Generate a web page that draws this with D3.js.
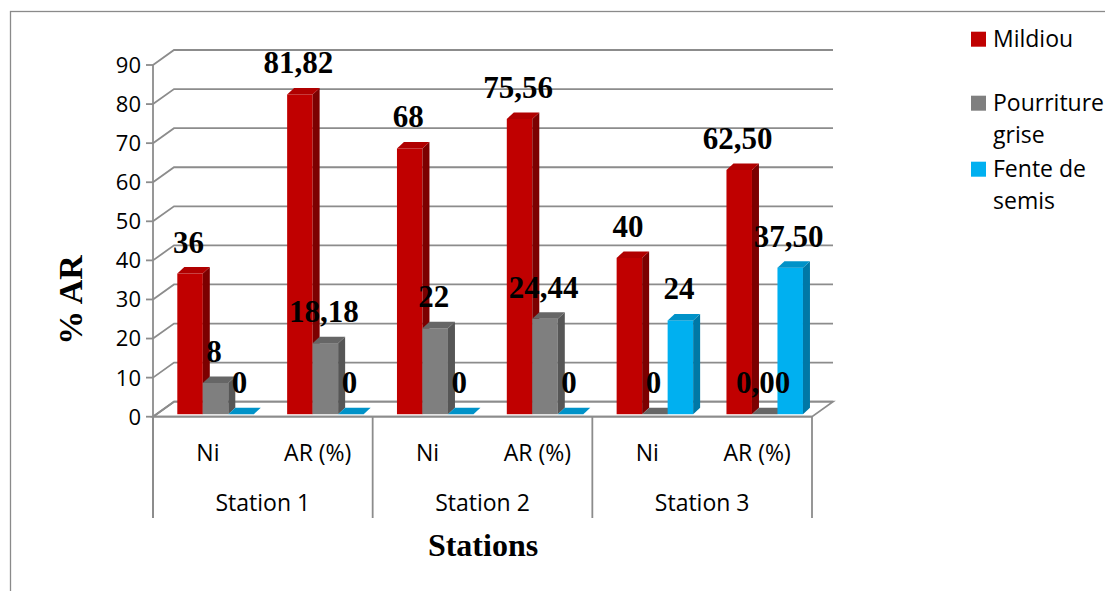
<!DOCTYPE html>
<html><head><meta charset="utf-8">
<script src="https://cdn.jsdelivr.net/npm/d3@7"></script>
<style>body{margin:0;background:#fff;} svg{display:block;}</style>
</head><body><svg id="chart" width="1105" height="591"></svg>
<script>
// ---- data ----
const categories = ["Ni", "AR (%)", "Ni", "AR (%)", "Ni", "AR (%)"];
const stations = ["Station 1", "Station 2", "Station 3"];
const seriesNames = ["Mildiou", "Pourriture grise", "Fente de semis"];
const mildiou = [36, 81.82, 68, 75.56, 40, 62.5];
const pourriture = [8, 18.18, 22, 24.44, 0, 0];
const fente = [0, 0, 0, 0, 24, 37.5];
const mildiouLabels = ["36", "81,82", "68", "75,56", "40", "62,50"];
const pourritureLabels = ["8", "18,18", "22", "24,44", "0", "0,00"];
const fenteLabels = ["0", "0", "0", "0", "24", "37,50"];
const yTicks = [0, 10, 20, 30, 40, 50, 60, 70, 80, 90];
const yTitle = "% AR";
const xTitle = "Stations";

// ---- styles ----
const palette = [
  {front: "#C00000", top: "#B00000", side: "#7C0000"},
  {front: "#7F7F7F", top: "#666666", side: "#565656"},
  {front: "#00B0F0", top: "#0092C8", side: "#0078A6"}
];
const seriesValues = [mildiou, pourriture, fente];
const seriesLabels = [mildiouLabels, pourritureLabels, fenteLabels];

const svg = d3.select("#chart");
const sansFont = "'Open Sans', sans-serif";
const serifFont = "'Liberation Serif', 'Times New Roman', serif";

// outer border
svg.append("rect").attr("x", 10.5).attr("y", 11.5).attr("width", 1200).attr("height", 700)
  .attr("fill", "#fff").attr("stroke", "#8a8a8a").attr("stroke-width", 1.3);

// scales
const x = d3.scaleBand().domain(d3.range(categories.length)).range([153, 812]);
const xs = d3.scaleBand().domain(d3.range(3)).range([24.3, 24.3 + 76.5]);
const y = d3.scaleLinear().domain([0, 90]).range([416.7, 65]);
const depth = {dx: 21, dy: -15};
const barFront = {dx: 3.5, dy: -2.5};
const barDepth = {dx: 7, dy: -6.5};
const gridColor = "#8c8c8c";

// floor
const x0 = x.range()[0], x1 = x.range()[1], yb = y(0);
svg.append("polygon")
  .attr("points", [[x0, yb], [x1, yb], [x1 + depth.dx, yb + depth.dy], [x0 + depth.dx, yb + depth.dy]].join(" "))
  .attr("fill", "#fff").attr("stroke", gridColor).attr("stroke-width", 1.8);

// gridlines (side wall + back wall)
const grid = svg.append("g");
yTicks.forEach(t => {
  const yy = y(t);
  grid.append("polyline")
    .attr("points", [[x0, yy], [x0 + depth.dx, yy + depth.dy], [x1 + depth.dx, yy + depth.dy]].join(" "))
    .attr("fill", "none").attr("stroke", gridColor).attr("stroke-width", 1.8);
});

// y axis line and ticks
svg.append("line").attr("x1", x0).attr("x2", x0).attr("y1", y(90)).attr("y2", 518)
  .attr("stroke", gridColor).attr("stroke-width", 1.8);
yTicks.forEach(t => {
  svg.append("line").attr("x1", x0 - 7).attr("x2", x0).attr("y1", y(t)).attr("y2", y(t))
    .attr("stroke", gridColor).attr("stroke-width", 1.8);
  svg.append("text").attr("x", x0 - 12).attr("y", y(t)).attr("dy", "0.36em")
    .attr("text-anchor", "end").attr("font-family", sansFont).attr("font-size", 22)
    .attr("fill", "#000").text(t);
});
// x axis front line
svg.append("line").attr("x1", x0).attr("x2", x1).attr("y1", yb).attr("y2", yb)
  .attr("stroke", gridColor).attr("stroke-width", 1.8);

// station separators
const groupW = (x1 - x0) / stations.length;
d3.range(stations.length + 1).forEach(j => {
  const xx = x0 + j * groupW;
  svg.append("line").attr("x1", xx).attr("x2", xx).attr("y1", yb).attr("y2", 518)
    .attr("stroke", gridColor).attr("stroke-width", 1.8);
});

// category labels
categories.forEach((c, i) => {
  svg.append("text").attr("x", x(i) + x.bandwidth() / 2).attr("y", 453).attr("dy", "0.36em")
    .attr("text-anchor", "middle").attr("font-family", sansFont).attr("font-size", 23).text(c);
});
stations.forEach((s, j) => {
  svg.append("text").attr("x", x0 + (j + 0.5) * groupW).attr("y", 503).attr("dy", "0.36em")
    .attr("text-anchor", "middle").attr("font-family", sansFont).attr("font-size", 23).text(s);
});

// bars (left to right so right neighbours cover hidden sides)
const bars = svg.append("g");
const labels = [];
categories.forEach((c, i) => {
  seriesValues.forEach((vals, s) => {
    const v = vals[i];
    const col = palette[s];
    const bx = x(i) + xs(s) ;
    const w = xs.bandwidth();
    const top = y(v) + barFront.dy;
    const bot = y(0) + barFront.dy;
    const g = bars.append("g");
    if (v > 0) {
      g.append("rect").attr("x", bx).attr("y", top).attr("width", w).attr("height", bot - top)
        .attr("fill", col.front);
      g.append("polygon").attr("points",
        [[bx + w, top], [bx + w + barDepth.dx, top + barDepth.dy], [bx + w + barDepth.dx, bot + barDepth.dy], [bx + w, bot]].join(" "))
        .attr("fill", col.side);
    }
    g.append("polygon").attr("points",
      [[bx, top], [bx + w, top], [bx + w + barDepth.dx, top + barDepth.dy], [bx + barDepth.dx, top + barDepth.dy]].join(" "))
      .attr("fill", col.top);
    labels.push({x: bx + w / 2 - 1.5, y: top - 21, text: seriesLabels[s][i]});
  });
});

// data labels
svg.append("g").selectAll("text").data(labels).join("text")
  .attr("x", d => d.x).attr("y", d => d.y)
  .attr("text-anchor", "middle").attr("font-family", serifFont).attr("font-weight", "bold")
  .attr("font-size", 31).attr("fill", "#000").text(d => d.text);

// axis titles
svg.append("text").attr("transform", "translate(82,300) rotate(-90)")
  .attr("text-anchor", "middle").attr("font-family", serifFont).attr("font-weight", "bold")
  .attr("font-size", 34).text(yTitle);
svg.append("text").attr("x", 483).attr("y", 556)
  .attr("text-anchor", "middle").attr("font-family", serifFont).attr("font-weight", "bold")
  .attr("font-size", 32).text(xTitle);

// legend
const legendRows = [
  {lines: ["Mildiou"], base: 46.7},
  {lines: ["Pourriture", "grise"], base: 110.7},
  {lines: ["Fente de", "semis"], base: 176.7}
];
legendRows.forEach((r, k) => {
  svg.append("rect").attr("x", 971).attr("y", r.base - 15).attr("width", 15).attr("height", 15)
    .attr("fill", palette[k].front);
  r.lines.forEach((ln, m) => {
    svg.append("text").attr("x", 993).attr("y", r.base + m * 32)
      .attr("font-family", sansFont).attr("font-size", 23).attr("fill", "#000").text(ln);
  });
});
</script></body></html>
